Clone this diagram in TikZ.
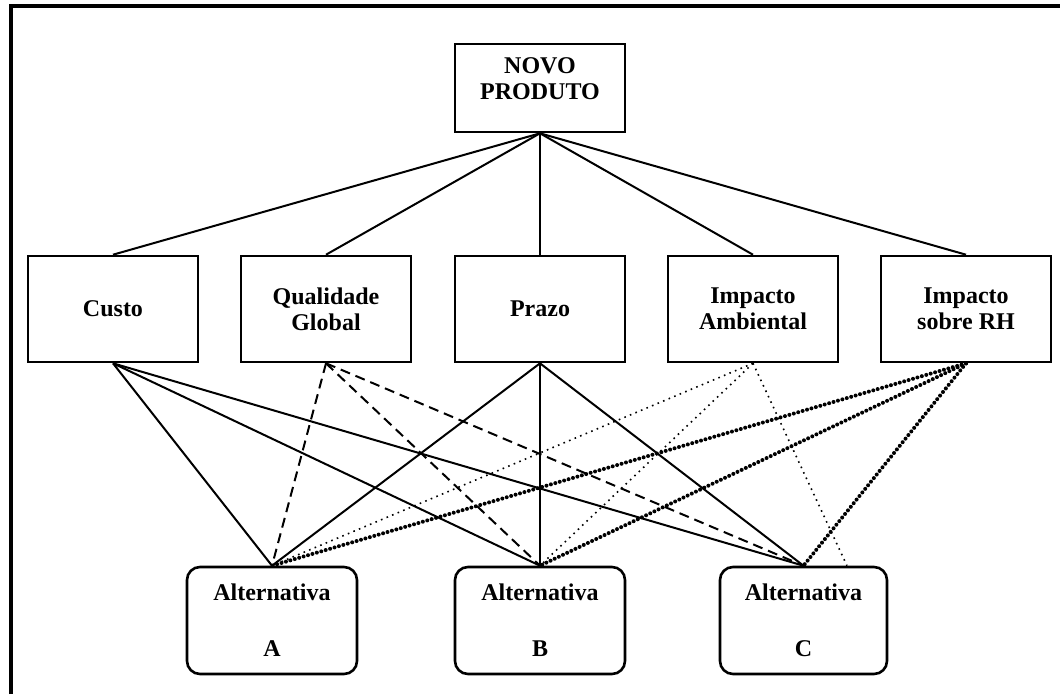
\documentclass[tikz,border=0pt]{standalone}
\usepackage{fontspec}
\setmainfont{Liberation Serif}
\begin{document}
\begin{tikzpicture}[x=1pt,y=-1pt,
  box/.style={draw, line width=2.6pt, minimum width=170pt, minimum height=106pt, inner sep=0pt},
  altbox/.style={box, rounded corners=13pt, minimum height=107pt},
  lbl/.style={align=center, font=\fontsize{24}{26}\selectfont\bfseries},
  plain/.style={line width=2pt},
  dashline/.style={line width=2pt, dash pattern=on 10pt off 6pt},
  fine/.style={line width=1.6pt, dash pattern=on 1.6pt off 4.4pt},
  heavy/.style={line width=4pt, line cap=round, dash pattern=on 0pt off 4.6pt}]
  \useasboundingbox (0,0) rectangle (1060,694);
  % frame along the top and left edges
  \draw[line width=4.5pt] (11,694) -- (11,6) -- (1060,6);

  % goal
  \node[box, minimum height=88pt] (novo) at (540,88) {};
  \node[lbl] (novotxt) at (540,79) {NOVO\\PRODUTO};

  % criteria
  \node[box, lbl] (custo) at (113,309) {Custo};
  \node[box, lbl] (qual)  at (326,309) {Qualidade\\Global};
  \node[box, lbl] (prazo) at (540,309) {Prazo};
  \node[box, lbl] (amb)   at (753,309) {Impacto\\Ambiental};
  \node[box, lbl] (rh)    at (966,309) {Impacto\\sobre RH};

  % alternatives
  \node[altbox, lbl] (altA) at (272,620.5) {Alternativa\\[30pt]A};
  \node[altbox, lbl] (altB) at (540,620.5) {Alternativa\\[30pt]B};
  \node[altbox, lbl, minimum width=167pt] (altC) at (803.5,620.5) {Alternativa\\[30pt]C};
  \coordinate (cAmb) at ([xshift=43.5pt]altC.north);

  % goal to criteria
  \foreach \c in {custo,qual,prazo,amb,rh}
    \draw[plain] (novo.south) -- (\c.north);

  % criteria to alternatives
  \foreach \a in {altA,altB,altC} {
    \draw[plain] (custo.south) -- (\a.north);
    \draw[dashline] (qual.south) -- (\a.north);
    \draw[plain] (prazo.south) -- (\a.north);
  }
  \draw[fine] (amb.south) -- (altA.north);
  \draw[fine] (amb.south) -- (altB.north);
  \draw[fine] (amb.south) -- (cAmb);
  \foreach \a in {altA,altB,altC}
    \draw[heavy] (rh.south) -- (\a.north);
\end{tikzpicture}
\end{document}
